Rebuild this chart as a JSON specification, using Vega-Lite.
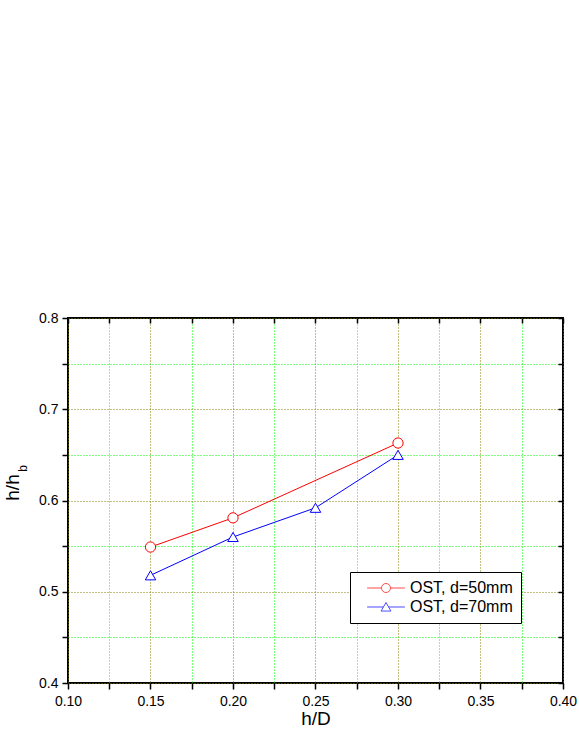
{
  "$schema": "https://vega.github.io/schema/vega-lite/v6.json",
  "width": 495,
  "height": 365,
  "autosize": {"type": "none"},
  "padding": {"left": 68, "top": 318, "right": 16, "bottom": 50},
  "background": "white",
  "config": {
    "view": {"stroke": "black", "strokeWidth": 2},
    "font": "Liberation Sans",
    "axis": {"labelFont": "Liberation Sans", "titleFont": "Liberation Sans", "labelColor": "black", "titleColor": "black", "tickColor": "black", "titleFontWeight": "normal", "labelFlush": false, "labelOverlap": false}
  },
  "data": {
    "values": [
      {"hD": 0.15, "ratio": 0.549, "series": "OST, d=50mm"},
      {"hD": 0.20, "ratio": 0.581, "series": "OST, d=50mm"},
      {"hD": 0.30, "ratio": 0.663, "series": "OST, d=50mm"},
      {"hD": 0.15, "ratio": 0.518, "series": "OST, d=70mm"},
      {"hD": 0.20, "ratio": 0.560, "series": "OST, d=70mm"},
      {"hD": 0.25, "ratio": 0.592, "series": "OST, d=70mm"},
      {"hD": 0.30, "ratio": 0.650, "series": "OST, d=70mm"}
    ]
  },
  "resolve": {"axis": {"x": "independent", "y": "independent"}},
  "layer": [
    {
      "mark": {"type": "point", "opacity": 0},
      "encoding": {
        "x": {"field": "hD", "type": "quantitative", "scale": {"domain": [0.1, 0.4], "nice": false, "zero": false},
          "axis": {"orient": "bottom", "values": [0.125, 0.175, 0.225, 0.275, 0.325, 0.375], "grid": true, "gridColor": "#00ff00", "gridDash": [1, 2], "gridOpacity": 1, "gridWidth": 1, "labels": false, "domain": false, "ticks": true, "tickSize": 6, "tickWidth": 1.5, "title": null}},
        "y": {"field": "ratio", "type": "quantitative", "scale": {"domain": [0.4, 0.8], "nice": false, "zero": false},
          "axis": {"orient": "left", "values": [0.45, 0.55, 0.65, 0.75], "grid": true, "gridColor": "#00ff00", "gridDash": [1, 2], "gridOpacity": 1, "gridWidth": 1, "labels": false, "domain": false, "ticks": true, "tickSize": 6, "tickWidth": 1.5, "title": null}}
      }
    },
    {
      "mark": {"type": "point", "opacity": 0},
      "encoding": {
        "x": {"field": "hD", "type": "quantitative",
          "axis": {"orient": "top", "values": [0.1, 0.125, 0.15, 0.175, 0.2, 0.225, 0.25, 0.275, 0.3, 0.325, 0.35, 0.375, 0.4], "grid": false, "labels": false, "domain": false, "ticks": true, "tickSize": -5, "tickWidth": 1.5, "title": null}},
        "y": {"field": "ratio", "type": "quantitative",
          "axis": {"orient": "right", "values": [0.4, 0.45, 0.5, 0.55, 0.6, 0.65, 0.7, 0.75, 0.8], "grid": false, "labels": false, "domain": false, "ticks": true, "tickSize": -5, "tickWidth": 1.5, "title": null}}
      }
    },
    {
      "mark": {"type": "point", "opacity": 0},
      "encoding": {
        "x": {"field": "hD", "type": "quantitative", "axis": null},
        "y": {"field": "ratio", "type": "quantitative",
          "axis": {"orient": "left", "grid": false, "labels": false, "domain": false, "ticks": false, "title": "b", "titleFontSize": 12, "titleX": -42, "titleY": 150, "titleAngle": -90, "titleAlign": "center", "titleBaseline": "alphabetic"}}
      }
    },
    {
      "transform": [{"filter": {"field": "series", "equal": "OST, d=50mm"}}],
      "mark": {"type": "line", "strokeWidth": 1, "color": "#ff0000"},
      "encoding": {
        "x": {"field": "hD", "type": "quantitative",
          "axis": {"orient": "bottom", "values": [0.1, 0.15, 0.2, 0.25, 0.3, 0.35, 0.4], "format": ".2f", "grid": true, "gridColor": "#808000", "gridDash": [1, 2], "gridOpacity": 1, "gridWidth": 1, "domain": false, "tickSize": 6, "tickWidth": 1.5, "labelFontSize": 14, "labelPadding": 5, "title": "h/D", "titleFontSize": 19, "titlePadding": 1}},
        "y": {"field": "ratio", "type": "quantitative",
          "axis": {"orient": "left", "values": [0.4, 0.5, 0.6, 0.7, 0.8], "format": ".1f", "grid": true, "gridColor": "#808000", "gridDash": [1, 2], "gridOpacity": 1, "gridWidth": 1, "domain": false, "tickSize": 6, "tickWidth": 1.5, "labelFontSize": 14, "labelPadding": 4, "title": "h/h", "titleFontSize": 19, "titleX": -50, "titleY": 169, "titleAngle": -90, "titleAlign": "center", "titleBaseline": "alphabetic"}}
      }
    },
    {
      "transform": [{"filter": {"field": "series", "equal": "OST, d=70mm"}}],
      "mark": {"type": "line", "strokeWidth": 1, "color": "#0000ff"},
      "encoding": {
        "x": {"field": "hD", "type": "quantitative", "axis": null},
        "y": {"field": "ratio", "type": "quantitative", "axis": null}
      }
    },
    {
      "transform": [{"filter": {"field": "series", "equal": "OST, d=50mm"}}],
      "mark": {"type": "point", "shape": "circle", "filled": true, "fill": "white", "fillOpacity": 1, "stroke": "#ff0000", "strokeWidth": 1, "size": 105, "opacity": 1},
      "encoding": {
        "x": {"field": "hD", "type": "quantitative", "axis": null},
        "y": {"field": "ratio", "type": "quantitative", "axis": null}
      }
    },
    {
      "transform": [{"filter": {"field": "series", "equal": "OST, d=70mm"}}],
      "mark": {"type": "point", "shape": "triangle-up", "filled": true, "fill": "white", "fillOpacity": 1, "stroke": "#0000ff", "strokeWidth": 1, "size": 110, "opacity": 1},
      "encoding": {
        "x": {"field": "hD", "type": "quantitative", "axis": null},
        "y": {"field": "ratio", "type": "quantitative", "axis": null}
      }
    },
    {
      "transform": [{"filter": {"field": "series", "equal": "none"}}],
      "mark": {"type": "point", "filled": false, "strokeWidth": 1, "size": 81},
      "encoding": {
        "x": {"field": "hD", "type": "quantitative", "axis": null},
        "y": {"field": "ratio", "type": "quantitative", "axis": null},
        "color": {"field": "series", "type": "nominal", "scale": {"domain": ["OST, d=50mm", "OST, d=70mm"], "range": ["#ff0000", "#0000ff"]},
          "legend": {"orient": "none", "legendX": 282, "legendY": 254, "title": null, "strokeColor": "black", "fillColor": "white", "padding": 8, "labelFontSize": 16, "labelFont": "Liberation Sans", "labelColor": "black", "symbolStrokeWidth": 1, "symbolSize": 81, "symbolOffset": 20, "labelOffset": 16, "rowPadding": 3, "labelExpr": "datum.label + '\u00a0\u00a0\u00a0'"}},
        "shape": {"field": "series", "type": "nominal", "scale": {"domain": ["OST, d=50mm", "OST, d=70mm"], "range": ["M-4.2,0H-1M1,0H4.2M1,0A1,1 0 1,1 -1,0A1,1 0 1,1 1,0", "M-4.2,0H-0.58M0.58,0H4.2M0,-1L1.1,0.9L-1.1,0.9Z"]},
          "legend": {"orient": "none", "legendX": 282, "legendY": 254, "title": null, "strokeColor": "black", "fillColor": "white", "padding": 8, "labelFontSize": 16, "labelFont": "Liberation Sans", "labelColor": "black", "symbolStrokeWidth": 1, "symbolSize": 81, "symbolOffset": 20, "labelOffset": 16, "rowPadding": 3, "labelExpr": "datum.label + '\u00a0\u00a0\u00a0'"}}
      }
    }
  ]
}
